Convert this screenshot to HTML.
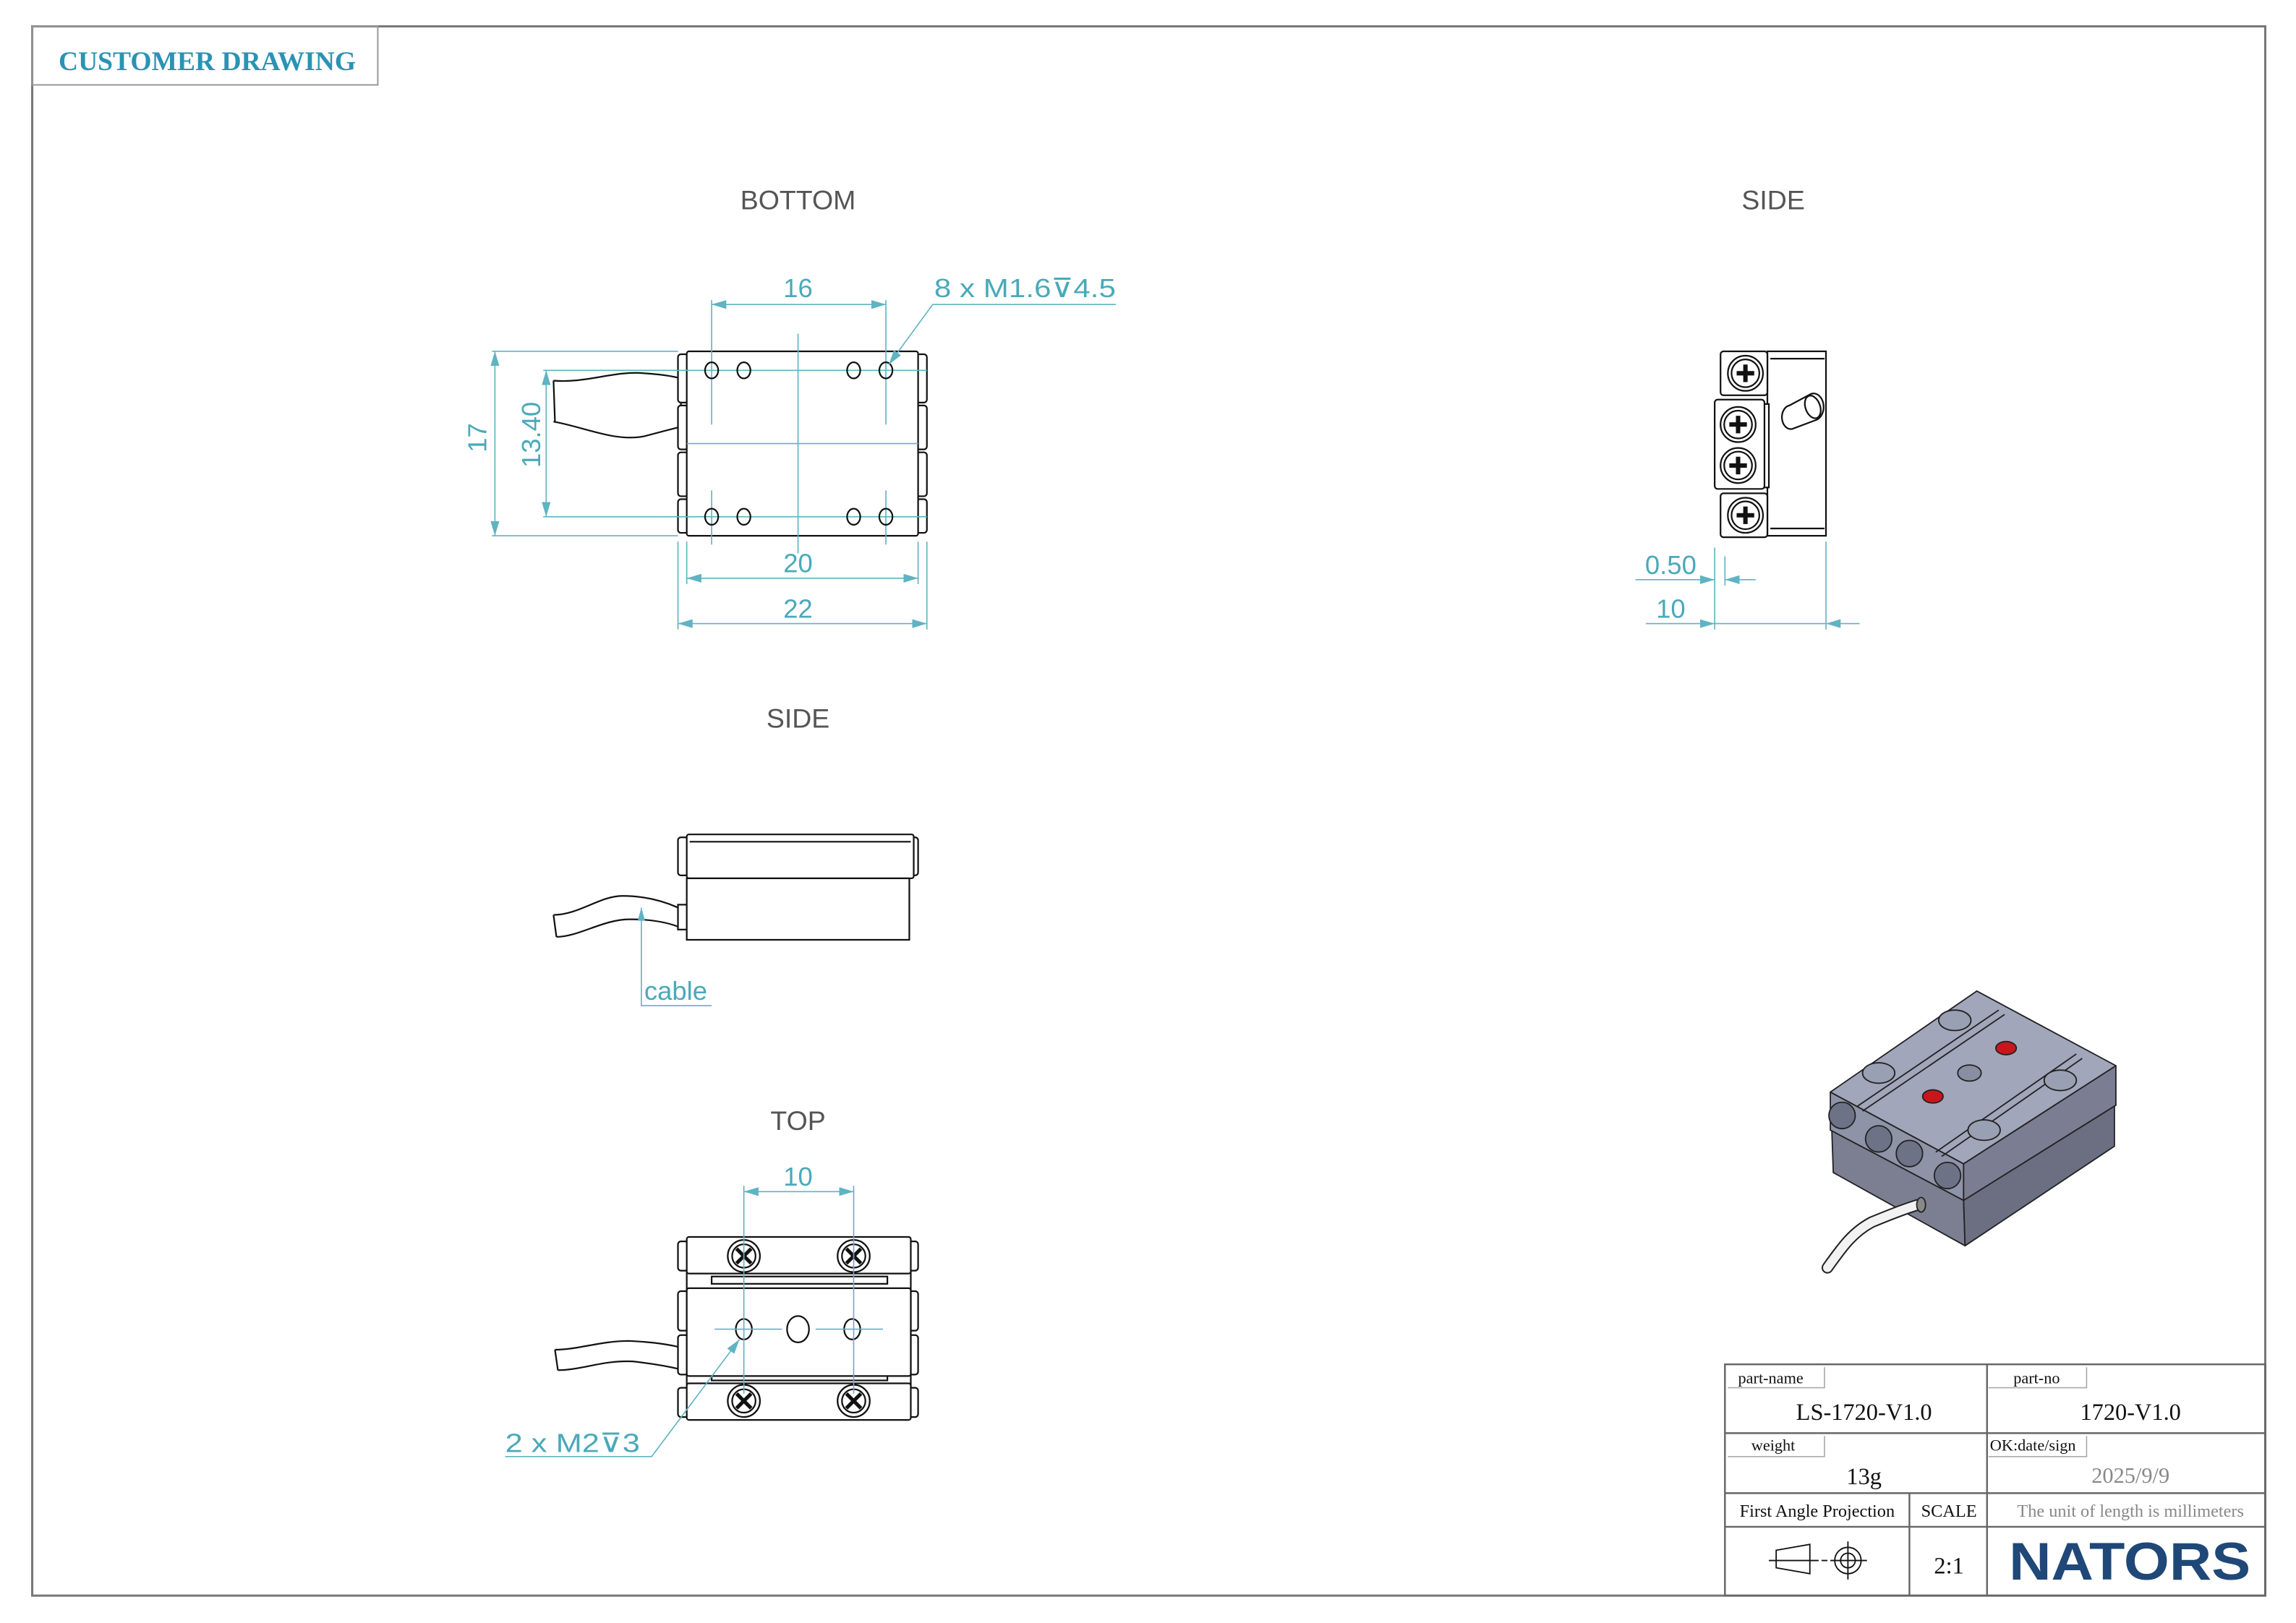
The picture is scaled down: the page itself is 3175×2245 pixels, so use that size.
<!DOCTYPE html>
<html><head><meta charset="utf-8"><style>
html,body{margin:0;padding:0;background:#fff;}
svg{display:block;font-family:"Liberation Sans",sans-serif;}
.t{fill:#4aa9b9;font-size:18px;font-family:"Liberation Sans",sans-serif;}
.d{stroke:#5fb3c2;stroke-width:0.8;fill:none;}
.k{stroke:#111;stroke-width:1.1;fill:none;}
.kf{stroke:#111;stroke-width:1.1;fill:#fff;}
.s{font-family:"Liberation Serif",serif;}
.h{font-family:"Liberation Sans",sans-serif;font-size:18.5px;fill:#555;}
</style></head><body>
<svg width="3175" height="2245" viewBox="0 0 1568 1108.7" preserveAspectRatio="none" xmlns="http://www.w3.org/2000/svg">
<defs>
<marker id="a" viewBox="0 0 10 6" refX="10" refY="3" markerWidth="10" markerHeight="6" orient="auto-start-reverse" markerUnits="userSpaceOnUse"><path d="M0,0L10,3L0,6z" fill="#5fb3c2"/></marker>
</defs>
<rect x="0" y="0" width="1568" height="1109" fill="#fff"/>
<rect x="22" y="18" width="1525" height="1072" fill="none" stroke="#777" stroke-width="1.5"/>
<rect x="22" y="18" width="236" height="40" fill="none" stroke="#999" stroke-width="1"/>
<text x="40" y="48" class="s" font-weight="bold" font-size="18.5" fill="#2a93b3" textLength="203" lengthAdjust="spacingAndGlyphs">CUSTOMER DRAWING</text>

<g text-anchor="middle">
<text class="h" x="545" y="143">BOTTOM</text>
<text class="h" x="1211" y="143">SIDE</text>
<text class="h" x="545" y="497">SIDE</text>
<text class="h" x="545" y="772">TOP</text>
</g>

<!-- BOTTOM view -->
<g>
<path class="k" d="M378,260 C400,262 420,253 440,255 Q455,256 463,258 M378,288 C400,292 420,302 440,298 Q455,294 463,292 M378,260 L379,288"/>
<rect class="kf" x="465" y="256" width="5" height="38"/>
<g class="kf">
<rect x="463" y="242" width="7" height="33" rx="2"/><rect x="463" y="277" width="7" height="30" rx="2"/><rect x="463" y="309" width="7" height="30" rx="2"/><rect x="463" y="341" width="7" height="23" rx="2"/>
<rect x="626" y="242" width="7" height="33" rx="2"/><rect x="626" y="277" width="7" height="30" rx="2"/><rect x="626" y="309" width="7" height="30" rx="2"/><rect x="626" y="341" width="7" height="23" rx="2"/>
</g>
<rect class="kf" x="469" y="240" width="158" height="126" rx="1.5" stroke-width="1.4"/>
<g class="d">
<line x1="545" y1="228" x2="545" y2="378"/><line x1="469" y1="303" x2="627" y2="303"/>
<line x1="486" y1="205" x2="486" y2="290"/><line x1="605" y1="205" x2="605" y2="290"/>
<line x1="486" y1="335" x2="486" y2="372"/><line x1="605" y1="335" x2="605" y2="372"/>
<line x1="450" y1="253" x2="633" y2="253"/><line x1="450" y1="353" x2="633" y2="353"/>
</g>
<g class="k">
<ellipse cx="486" cy="253" rx="4.5" ry="5.5"/><ellipse cx="508" cy="253" rx="4.5" ry="5.5"/><ellipse cx="583" cy="253" rx="4.5" ry="5.5"/><ellipse cx="605" cy="253" rx="4.5" ry="5.5"/>
<ellipse cx="486" cy="353" rx="4.5" ry="5.5"/><ellipse cx="508" cy="353" rx="4.5" ry="5.5"/><ellipse cx="583" cy="353" rx="4.5" ry="5.5"/><ellipse cx="605" cy="353" rx="4.5" ry="5.5"/>
</g>
<g class="d">
<line x1="486" y1="208" x2="605" y2="208" marker-start="url(#a)" marker-end="url(#a)"/>
<polyline points="762,208 637,208 607,249" marker-end="url(#a)"/>
<line x1="336" y1="240" x2="463" y2="240"/><line x1="336" y1="366" x2="463" y2="366"/>
<line x1="338" y1="240" x2="338" y2="366" marker-start="url(#a)" marker-end="url(#a)"/>
<line x1="371" y1="253" x2="450" y2="253"/><line x1="371" y1="353" x2="450" y2="353"/>
<line x1="373" y1="253" x2="373" y2="353" marker-start="url(#a)" marker-end="url(#a)"/>
<line x1="469" y1="370" x2="469" y2="399"/><line x1="627" y1="370" x2="627" y2="399"/>
<line x1="469" y1="395" x2="627" y2="395" marker-start="url(#a)" marker-end="url(#a)"/>
<line x1="463" y1="370" x2="463" y2="430"/><line x1="633" y1="370" x2="633" y2="430"/>
<line x1="463" y1="426" x2="633" y2="426" marker-start="url(#a)" marker-end="url(#a)"/>
</g>
<text class="t" x="545" y="203" text-anchor="middle">16</text>
<text class="t" x="638" y="203" textLength="124" lengthAdjust="spacingAndGlyphs">8 x M1.6⊽4.5</text>
<text class="t" x="545" y="391" text-anchor="middle">20</text>
<text class="t" x="545" y="422" text-anchor="middle">22</text>
<text class="t" transform="translate(332,299) rotate(-90)" text-anchor="middle">17</text>
<text class="t" transform="translate(369,297) rotate(-90)" text-anchor="middle">13.40</text>
</g>

<!-- SIDE (right) -->
<g>
<rect class="kf" x="1207" y="240" width="40" height="126"/>
<line class="k" x1="1209" y1="245" x2="1246" y2="245"/><line class="k" x1="1209" y1="361" x2="1246" y2="361"/>
<rect class="kf" x="1204" y="276" width="4" height="57"/>
<rect class="kf" x="1175" y="240" width="32" height="30" rx="2"/>
<rect class="kf" x="1171" y="273" width="34" height="61" rx="2"/>
<rect class="kf" x="1175" y="337" width="32" height="30" rx="2"/>
<g class="k">
<circle cx="1192" cy="255" r="12"/><circle cx="1192" cy="255" r="9.5"/>
<circle cx="1187" cy="290" r="12"/><circle cx="1187" cy="290" r="9.5"/>
<circle cx="1187" cy="318" r="12"/><circle cx="1187" cy="318" r="9.5"/>
<circle cx="1192" cy="352" r="12"/><circle cx="1192" cy="352" r="9.5"/>
<path d="M1186,255h12M1192,249v12M1181,290h12M1187,284v12M1181,318h12M1187,312v12M1186,352h12M1192,346v12" stroke-width="3"/>
<path d="M1222,277 L1237,269 A6,8 0 0 1 1240,287 L1224,293 A6,8 0 0 1 1222,277z"/>
<ellipse cx="1238" cy="278" rx="5" ry="8" transform="rotate(-20 1238 278)"/>
</g>
<g class="d">
<line x1="1171" y1="374" x2="1171" y2="430"/><line x1="1178" y1="380" x2="1178" y2="400"/><line x1="1247" y1="370" x2="1247" y2="430"/>
<line x1="1117" y1="396" x2="1171" y2="396" marker-end="url(#a)"/>
<line x1="1199" y1="396" x2="1178" y2="396" marker-end="url(#a)"/>
<line x1="1124" y1="426" x2="1171" y2="426" marker-end="url(#a)"/>
<line x1="1171" y1="426" x2="1247" y2="426"/>
<line x1="1270" y1="426" x2="1247" y2="426" marker-end="url(#a)"/>
</g>
<text class="t" x="1141" y="392" text-anchor="middle">0.50</text>
<text class="t" x="1141" y="422" text-anchor="middle">10</text>
</g>

<!-- SIDE (middle) -->
<g>
<path class="k" d="M378,625 C395,625 410,612 425,612 Q445,612 463,620 M380,640 C395,640 412,628 430,628 Q450,628 463,633 M378,625 L380,640"/>
<rect class="kf" x="463" y="618" width="7" height="17"/>
<rect class="kf" x="463" y="572" width="7" height="26" rx="2"/><rect class="kf" x="620" y="572" width="7" height="26" rx="2"/>
<rect class="kf" x="469" y="570" width="155" height="30" rx="1.5"/>
<rect class="kf" x="469" y="600" width="152" height="42"/>
<line class="k" x1="471" y1="575" x2="622" y2="575"/>
<g class="d"><polyline points="438,620 438,687 486,687"/></g>
<path d="M438,620 l-2.5,9 h5z" fill="#5fb3c2"/>
<text class="t" x="440" y="683">cable</text>
</g>

<!-- TOP view -->
<g>
<path class="k" d="M379,922 C395,922 410,916 430,916 Q450,917 463,920 M381,936 C397,936 412,929 432,930 Q450,932 463,935 M379,922 L381,936"/>
<g class="kf">
<rect x="463" y="848" width="7" height="20" rx="2"/><rect x="463" y="882" width="7" height="27" rx="2"/><rect x="463" y="912" width="7" height="27" rx="2"/><rect x="463" y="948" width="7" height="20" rx="2"/>
<rect x="620" y="848" width="7" height="20" rx="2"/><rect x="620" y="882" width="7" height="27" rx="2"/><rect x="620" y="912" width="7" height="27" rx="2"/><rect x="620" y="948" width="7" height="20" rx="2"/>
</g>
<rect class="kf" x="469" y="868" width="153" height="80"/>
<rect class="kf" x="486" y="872" width="120" height="5"/><rect class="kf" x="486" y="938" width="120" height="5"/>
<rect class="kf" x="469" y="845" width="153" height="25" rx="1.5"/>
<rect class="kf" x="469" y="880" width="153" height="60" rx="1.5"/>
<rect class="kf" x="469" y="945" width="153" height="25" rx="1.5"/>
<g class="k">
<ellipse cx="508" cy="858" rx="11" ry="11"/><ellipse cx="508" cy="858" rx="8" ry="8"/>
<ellipse cx="583" cy="858" rx="11" ry="11"/><ellipse cx="583" cy="858" rx="8" ry="8"/>
<ellipse cx="508" cy="957" rx="11" ry="11"/><ellipse cx="508" cy="957" rx="8" ry="8"/>
<ellipse cx="583" cy="957" rx="11" ry="11"/><ellipse cx="583" cy="957" rx="8" ry="8"/>
<path d="M503,853l10,10M513,853l-10,10M578,853l10,10M588,853l-10,10M503,952l10,10M513,952l-10,10M578,952l10,10M588,952l-10,10" stroke-width="2.5"/>
<ellipse cx="508" cy="908" rx="5.5" ry="7"/><ellipse cx="545" cy="908" rx="7.5" ry="9"/><ellipse cx="582" cy="908" rx="5.5" ry="7"/>
</g>
<g class="d">
<line x1="508" y1="810" x2="508" y2="952"/><line x1="583" y1="810" x2="583" y2="952"/>
<line x1="488" y1="908" x2="534" y2="908"/><line x1="557" y1="908" x2="603" y2="908"/>
<line x1="508" y1="814" x2="583" y2="814" marker-start="url(#a)" marker-end="url(#a)"/>
<polyline points="345,995 445,995 505,915" marker-end="url(#a)"/>
</g>
<text class="t" x="545" y="810" text-anchor="middle">10</text>
<text class="t" x="345" y="992" textLength="92" lengthAdjust="spacingAndGlyphs">2 x M2⊽3</text>
</g>

<!-- ISO view -->
<g stroke="#222" stroke-width="0.9" stroke-linejoin="round">
<polygon points="1251,772 1341,820 1342,851 1252,801" fill="#7c7f92"/>
<polygon points="1341,820 1444,755 1444,783 1342,851" fill="#6c6f82"/>
<polygon points="1250,746 1341,795 1341,820 1250,772" fill="#8f93a8"/>
<polygon points="1341,795 1445,728 1445,755 1341,820" fill="#7b7e93"/>
<polygon points="1250,746 1350,677 1445,728 1341,795" fill="#a2a6ba"/>
<polyline points="1268,756 1365,690" fill="none"/>
<polyline points="1272,759 1369,693" fill="none"/>
<polyline points="1322,787 1418,720" fill="none"/>
<polyline points="1326,790 1422,723" fill="none"/>
<ellipse cx="1335" cy="697" rx="11" ry="7" fill="#9aa0b3"/>
<ellipse cx="1283" cy="733" rx="11" ry="7" fill="#9aa0b3"/>
<ellipse cx="1407" cy="738" rx="11" ry="7" fill="#9aa0b3"/>
<ellipse cx="1355" cy="772" rx="11" ry="7" fill="#9aa0b3"/>
<ellipse cx="1370" cy="716" rx="7" ry="4.5" fill="#c9161c"/>
<ellipse cx="1320" cy="749" rx="7" ry="4.5" fill="#c9161c"/>
<ellipse cx="1345" cy="733" rx="8" ry="5.5" fill="#8a8ea2"/>
<g fill="#6e7286">
<circle cx="1258" cy="762" r="9"/><circle cx="1283" cy="778" r="9"/><circle cx="1304" cy="788" r="9"/><circle cx="1330" cy="803" r="9"/>
</g>
<path d="M1310,823 C1300,826 1290,830 1278,835 C1265,842 1258,852 1248,866" fill="none" stroke="#222" stroke-width="8" stroke-linecap="round"/>
<path d="M1310,823 C1300,826 1290,830 1278,835 C1265,842 1258,852 1248,866" fill="none" stroke="#f2f2f2" stroke-width="6" stroke-linecap="round"/>
<ellipse cx="1312" cy="823" rx="3" ry="5" fill="#888"/>
</g>

<!-- Title block -->
<g stroke="#666" stroke-width="1.2" fill="none">
<rect x="1178" y="932" width="369" height="158"/>
<line x1="1357" y1="932" x2="1357" y2="1090"/>
<line x1="1178" y1="979" x2="1547" y2="979"/>
<line x1="1178" y1="1020" x2="1547" y2="1020"/>
<line x1="1178" y1="1043" x2="1547" y2="1043"/>
<line x1="1304" y1="1020" x2="1304" y2="1090"/>
</g>
<g stroke="#aaa" stroke-width="0.8" fill="none">
<polyline points="1246,934 1246,948 1180,948"/>
<polyline points="1425,934 1425,948 1358,948"/>
<polyline points="1246,981 1246,995 1180,995"/>
<polyline points="1425,981 1425,995 1358,995"/>
</g>
<g fill="#111">
<text class="s" x="1187" y="945" font-size="11">part-name</text>
<text class="s" x="1375" y="945" font-size="11">part-no</text>
<text class="s" x="1196" y="991" font-size="11">weight</text>
<text class="s" x="1359" y="991" font-size="11">OK:date/sign</text>
<text class="s" x="1273" y="970" font-size="16" text-anchor="middle">LS-1720-V1.0</text>
<text class="s" x="1455" y="970" font-size="16" text-anchor="middle">1720-V1.0</text>
<text class="s" x="1273" y="1014" font-size="16" text-anchor="middle">13g</text>
<text class="s" x="1455" y="1013" font-size="15" text-anchor="middle" fill="#888">2025/9/9</text>
<text class="s" x="1241" y="1036" font-size="12" text-anchor="middle">First Angle Projection</text>
<text class="s" x="1331" y="1036" font-size="12" text-anchor="middle">SCALE</text>
<text class="s" x="1455" y="1036" font-size="12" text-anchor="middle" fill="#888">The unit of length is millimeters</text>
<text class="s" x="1331" y="1075" font-size="16" text-anchor="middle">2:1</text>
</g>
<text x="1372" y="1079" font-size="36" font-weight="bold" fill="#1f4878" textLength="165" lengthAdjust="spacingAndGlyphs">NATORS</text>
<g stroke="#111" stroke-width="0.9" fill="none">
<polygon points="1213,1059 1236,1055 1236,1075 1213,1071"/>
<line x1="1208" y1="1066" x2="1242" y2="1066"/><line x1="1244" y1="1066" x2="1248" y2="1066"/>
<circle cx="1262" cy="1066" r="9"/><circle cx="1262" cy="1066" r="5"/>
<line x1="1250" y1="1066" x2="1275" y2="1066"/><line x1="1262" y1="1053" x2="1262" y2="1079"/>
</g>
</svg>
</body></html>
